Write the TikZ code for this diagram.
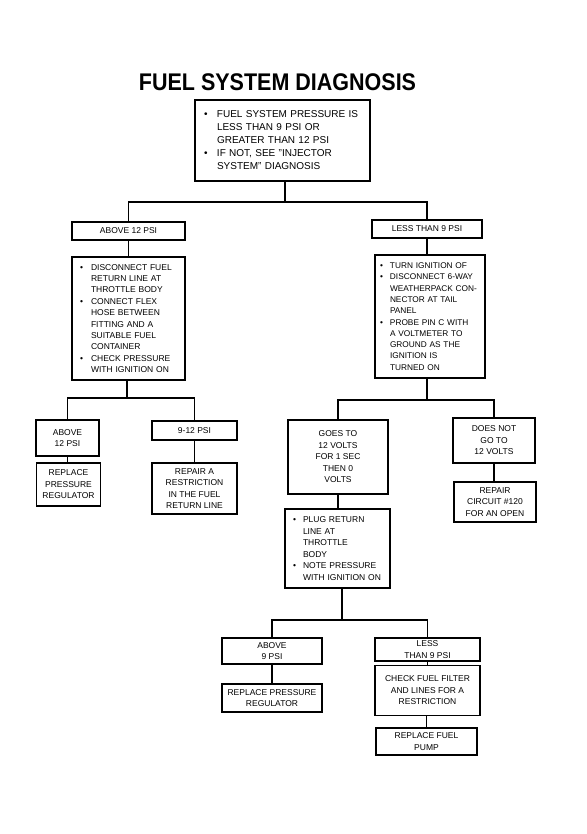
\documentclass[tikz,border=0pt]{standalone}
\usepackage{fontspec}
\setmainfont{Liberation Sans}
\newcommand{\bl}{\makebox[11pt][l]{\textbullet}}
\newcommand{\ct}{\hspace*{11pt}}
\newcommand{\blt}{\makebox[13pt][l]{\textbullet}}
\newcommand{\ctt}{\hspace*{13pt}}
\begin{document}
\begin{tikzpicture}[x=1pt,y=-1pt,
  box/.style={draw, line width=1.2pt, inner sep=0pt, align=center,
    font=\fontsize{8.5}{11.5}\selectfont},
  conn/.style={line width=1.3pt}]
\useasboundingbox[fill=white] (0,0) rectangle (586,834);

\node[font=\fontsize{21.5}{24}\bfseries] (title) at (277.5,82) {\scalebox{1}[1.12]{FUEL SYSTEM DIAGNOSIS}};

\node[box, align=left, text width=157pt, minimum width=175pt, minimum height=81pt,
  font=\fontsize{10}{13}\selectfont] (top) at (282.5,140.5)
  {\blt FUEL SYSTEM PRESSURE IS\\\ctt LESS THAN 9 PSI OR\\\ctt GREATER THAN 12 PSI\\\blt IF NOT, SEE "INJECTOR\\\ctt SYSTEM" DIAGNOSIS};

% left branch
\node[box, minimum width=113pt, minimum height=18pt] (a12) at (128.5,231) {ABOVE 12 PSI};
\node[box, align=left, text width=97pt, minimum width=113pt, minimum height=123pt,
  font=\fontsize{8.5}{11.4}\selectfont] (l1) at (128.5,318.5)
  {\bl DISCONNECT FUEL\\\ct RETURN LINE AT\\\ct THROTTLE BODY\\\bl CONNECT FLEX\\\ct HOSE BETWEEN\\\ct FITTING AND A\\\ct SUITABLE FUEL\\\ct CONTAINER\\\bl CHECK PRESSURE\\\ct WITH IGNITION ON};
\node[box, minimum width=63pt, minimum height=36pt] (a12b) at (67.5,438) {ABOVE\\12 PSI};
\node[box, minimum width=85pt, minimum height=19pt] (p912) at (194.5,430.5) {9-12 PSI};
\node[box, minimum width=64pt, minimum height=43pt] (rpr1) at (68.5,484.5) {REPLACE\\PRESSURE\\REGULATOR};
\node[box, minimum width=85pt, minimum height=51pt] (rr) at (194.5,488.5) {REPAIR A\\RESTRICTION\\IN THE FUEL\\RETURN LINE};

% right branch
\node[box, minimum width=110pt, minimum height=18pt] (lt9) at (427,229) {LESS THAN 9 PSI};
\node[box, align=left, text width=100pt, minimum width=110pt, minimum height=123pt,
  font=\fontsize{8.3}{11.3}\selectfont] (r1) at (430,316.5)
  {\makebox[10pt][l]{\textbullet}TURN IGNITION OF\\\makebox[10pt][l]{\textbullet}DISCONNECT 6-WAY\\\hspace*{10pt}WEATHERPACK CON-\\\hspace*{10pt}NECTOR AT TAIL\\\hspace*{10pt}PANEL\\\makebox[10pt][l]{\textbullet}PROBE PIN C WITH\\\hspace*{10pt}A VOLTMETER TO\\\hspace*{10pt}GROUND AS THE\\\hspace*{10pt}IGNITION IS\\\hspace*{10pt}TURNED ON};
\node[box, minimum width=100pt, minimum height=74pt] (g12) at (338,457) {GOES TO\\12 VOLTS\\FOR 1 SEC\\THEN 0\\VOLTS};
\node[box, minimum width=82pt, minimum height=45pt] (dn) at (494,440.5) {DOES NOT\\GO TO\\12 VOLTS};
\node[box, minimum width=82pt, minimum height=40pt] (rc) at (495,502) {REPAIR\\CIRCUIT \#120\\FOR AN OPEN};
\node[box, align=left, text width=89pt, minimum width=105pt, minimum height=79pt] (pl) at (337.5,548.5)
  {\makebox[10pt][l]{\textbullet}PLUG RETURN\\\hspace*{10pt}LINE AT\\\hspace*{10pt}THROTTLE\\\hspace*{10pt}BODY\\\makebox[10pt][l]{\textbullet}NOTE PRESSURE\\\hspace*{10pt}WITH IGNITION ON};
\node[box, minimum width=100pt, minimum height=26pt] (a9) at (272,651) {ABOVE\\9 PSI};
\node[box, minimum width=105pt, minimum height=23pt] (lt9b) at (427.5,649.5) {LESS\\THAN 9 PSI};
\node[box, minimum width=100pt, minimum height=28pt] (rpr2) at (272,698) {REPLACE PRESSURE\\REGULATOR};
\node[box, minimum width=105pt, minimum height=50pt] (cf) at (427.5,690.5) {CHECK FUEL FILTER\\AND LINES FOR A\\RESTRICTION};
\node[box, minimum width=101pt, minimum height=27pt] (rfp) at (426.5,741.5) {REPLACE FUEL\\PUMP};

% connectors
\coordinate (j1) at (285,202);
\draw[conn] (top.south -| j1) -- (j1);
\draw[conn] (a12.north) -- (a12.north |- j1) -- (lt9.north |- j1) -- (lt9.north);
\draw[conn] (a12.south) -- (l1.north);
\coordinate (j2) at (127,398);
\draw[conn] (l1.south -| j2) -- (j2);
\draw[conn] (a12b.north) -- (a12b.north |- j2) -- (p912.north |- j2) -- (p912.north);
\draw[conn] (a12b.south) -- (rpr1.north -| a12b.south);
\draw[conn] (p912.south) -- (rr.north);
\draw[conn] (lt9.south) -- (lt9.south |- r1.north);
\coordinate (j3) at (427,400);
\draw[conn] (r1.south -| j3) -- (j3);
\draw[conn] (g12.north) -- (g12.north |- j3) -- (dn.north |- j3) -- (dn.north);
\draw[conn] (g12.south) -- (g12.south |- pl.north);
\draw[conn] (dn.south) -- (dn.south |- rc.north);
\coordinate (j4) at (342,620);
\draw[conn] (pl.south -| j4) -- (j4);
\draw[conn] (a9.north) -- (a9.north |- j4) -- (lt9b.north |- j4) -- (lt9b.north);
\draw[conn] (a9.south) -- (rpr2.north);
\draw[conn] (lt9b.south) -- (cf.north);
\draw[conn] (cf.south -| rfp.north) -- (rfp.north);
\end{tikzpicture}
\end{document}
